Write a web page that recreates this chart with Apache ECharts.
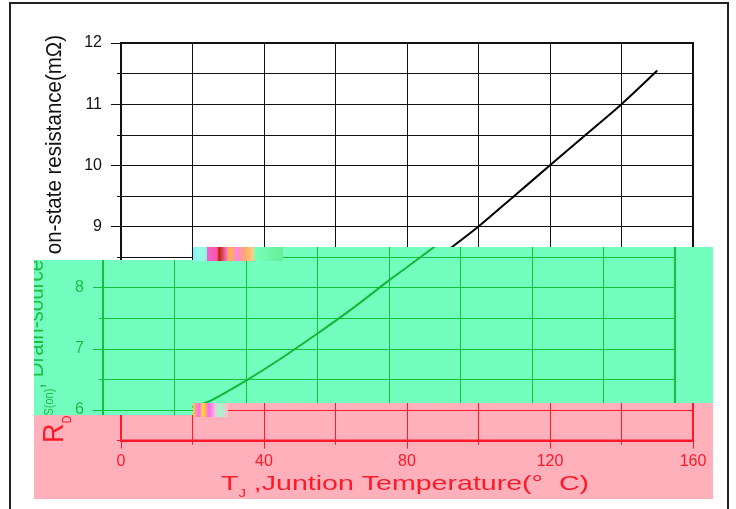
<!DOCTYPE html>
<html>
<head>
<meta charset="utf-8">
<script src="https://cdn.jsdelivr.net/npm/echarts@6/dist/echarts.min.js"></script>
<style>
html, body { margin: 0; padding: 0; background: #fff; }
#wrap { position: relative; width: 736px; height: 509px; overflow: hidden; }
.clip { position: absolute; overflow: hidden; }
.ch { position: absolute; width: 736px; height: 509px; }
</style>
</head>
<body>
<div id="wrap">
  <div id="base" class="ch" style="left:0;top:0"></div>
</div>
<script>
// curve
var tempC = [25, 30, 40, 50, 60, 70, 80, 90, 100, 110, 120, 130, 140, 150];
var rdsOn = [6.05, 6.15, 6.48, 6.85, 7.25, 7.67, 8.12, 8.55, 9.0, 9.5, 10.0, 10.5, 11.0, 11.55];
var xTicks = [0, 40, 80, 120, 160];
var yTicks = [6, 7, 8, 9, 10, 11, 12];
var yTitle = ['R', 'DS(on)', ', Drain-source on-state resistance(mΩ)'];
var xTitle = ['T', 'J', ' ,Juntion Temperature(°  C)'];

var FONT = '"Liberation Sans", Arial, sans-serif';

var black = { line: '#111', text: '#111', curve: '#000' };
var green = { line: '#12c23a', text: '#1cbf44', curve: '#10b835' };
var red = { line: '#ff1a2a', text: '#ff1a2a', curve: '#ff1a2a' };

function makeOption(c, withFrame) {
    var pts = tempC.map(function (t, i) { return [t, rdsOn[i]]; });
    var opt = {
        animation: false,
        backgroundColor: 'transparent',
        grid: {
            left: 121, top: 43, width: 572, height: 397.6,
            show: true, borderColor: c.line, borderWidth: 2,
            backgroundColor: 'transparent'
        },
        xAxis: {
            type: 'value', min: 0, max: 160, interval: 40,
            axisLine: { onZero: false, lineStyle: { color: c.line, width: 2 } },
            axisTick: { length: 8, lineStyle: { color: c.line, width: 1 } },
            minorTick: { show: true, splitNumber: 2, length: 4, lineStyle: { color: c.line, width: 1 } },
            splitLine: { show: true, lineStyle: { color: c.line, width: 1 } },
            minorSplitLine: { show: true, lineStyle: { color: c.line, width: 1 } },
            axisLabel: { customValues: xTicks, margin: 13, color: c.text, fontSize: 16, fontFamily: FONT }
        },
        yAxis: [
            {
                type: 'value', min: 5.5, max: 12, interval: 0.5, position: 'left',
                axisLine: { show: true, onZero: false, lineStyle: { color: c.line, width: 2 } },
                axisTick: { length: 4, lineStyle: { color: c.line, width: 1 } },
                splitLine: { show: true, lineStyle: { color: c.line, width: 1 } },
                axisLabel: { customValues: yTicks, margin: 19, color: c.text, fontSize: 16, fontFamily: FONT }
            },
            {
                type: 'value', min: 5.5, max: 12, interval: 0.5, position: 'left',
                axisLine: { show: false },
                axisTick: { show: true, customValues: yTicks, length: 10, lineStyle: { color: c.line, width: 1 } },
                splitLine: { show: false },
                axisLabel: { show: false }
            }
        ],
        series: [{
            type: 'line',
            data: pts,
            smooth: 0.3,
            showSymbol: false,
            lineStyle: { color: c.curve, width: 2 },
            z: 5
        }],
        graphic: [
            {
                type: 'text', x: 55, y: 239, rotation: Math.PI / 2, scaleY: 1.11,
                style: {
                    text: '{r|' + yTitle[0] + '}{s|' + yTitle[1] + '}{t|' + yTitle[2] + '}',
                    align: 'center', verticalAlign: 'middle', fill: c.text, font: '20px ' + FONT,
                    rich: {
                        r: { fontSize: 27, fontFamily: FONT, fill: c.text, lineHeight: 34, verticalAlign: 'middle' },
                        s: { fontSize: 11, fontFamily: FONT, fill: c.text, lineHeight: 11, verticalAlign: 'bottom' },
                        t: { fontSize: 20.5, fontFamily: FONT, fill: c.text, lineHeight: 34, verticalAlign: 'middle' }
                    }
                }
            },
            {
                type: 'text', x: 405, y: 484, scaleX: 1.36,
                style: {
                    text: '{r|' + xTitle[0] + '}{s|' + xTitle[1] + '}{r|' + xTitle[2] + '}',
                    align: 'center', verticalAlign: 'middle', fill: c.text, font: '21px ' + FONT,
                    rich: {
                        r: { fontSize: 21, fontFamily: FONT, fill: c.text, lineHeight: 31, verticalAlign: 'middle' },
                        s: { fontSize: 11, fontFamily: FONT, fill: c.text, lineHeight: 11, verticalAlign: 'bottom' }
                    }
                }
            }
        ]
    };
    if (withFrame) {
        opt.graphic.push({
            type: 'rect', shape: { x: 10, y: 3, width: 718, height: 540 },
            style: { fill: null, stroke: '#222', lineWidth: 2 }
        });
    }
    return opt;
}

var charts = [];
var baseChart = echarts.init(document.getElementById('base'));
baseChart.setOption(makeOption(black, true));
charts.push(baseChart);

var MINT = '#73fdbf';
var PINK = '#ffb0ba';
var bands = [
    { l: 34, t: 260, w: 679, h: 143, bg: MINT, dx: -18, c: green },
    { l: 283, t: 247, w: 430, h: 13, bg: MINT, dx: -18, c: green },
    { l: 34, t: 403, w: 159, h: 12, bg: MINT, dx: -18, c: green },
    { l: 34, t: 415, w: 679, h: 84, bg: PINK, dx: 0, c: red },
    { l: 228, t: 403, w: 485, h: 12, bg: PINK, dx: 0, c: red }
];
var wrap = document.getElementById('wrap');
bands.forEach(function (b) {
    var clip = document.createElement('div');
    clip.className = 'clip';
    clip.style.cssText = 'left:' + b.l + 'px;top:' + b.t + 'px;width:' + b.w + 'px;height:' + b.h + 'px;background:' + b.bg;
    var ch = document.createElement('div');
    ch.className = 'ch';
    ch.style.left = (-b.l + b.dx) + 'px';
    ch.style.top = (-b.t) + 'px';
    clip.appendChild(ch);
    wrap.appendChild(clip);
    var c = echarts.init(ch);
    c.setOption(makeOption(b.c, false));
    charts.push(c);
});

// the broken little blocks at the band edges
var noise = [
    { l: 193, t: 247, w: 90, h: 14, bg: 'linear-gradient(90deg,#8ef 0,#9fd 10px,#8ee 14px,#e6c 14px,#f5a 24px,#b20 26px,#f7c 34px,#fb3 36px,#f8d 44px,#fa6 52px,#fc8 60px,#7fb 62px,#6e9 90px)' },
    { l: 193, t: 403, w: 35, h: 14, bg: 'linear-gradient(90deg,#fc3 0,#f6f 6px,#fd2 10px,#f6e 16px,#fbd 22px,#9fc 26px,#fbc 35px)' }
];
noise.forEach(function (n) {
    var d = document.createElement('div');
    d.className = 'clip';
    d.style.cssText = 'left:' + n.l + 'px;top:' + n.t + 'px;width:' + n.w + 'px;height:' + n.h + 'px;background:' + n.bg;
    wrap.appendChild(d);
});

window.onresize = function () {
    for (var i = 0; i < charts.length; i++) {
        charts[i].resize();
    }
};
</script>
</body>
</html>
